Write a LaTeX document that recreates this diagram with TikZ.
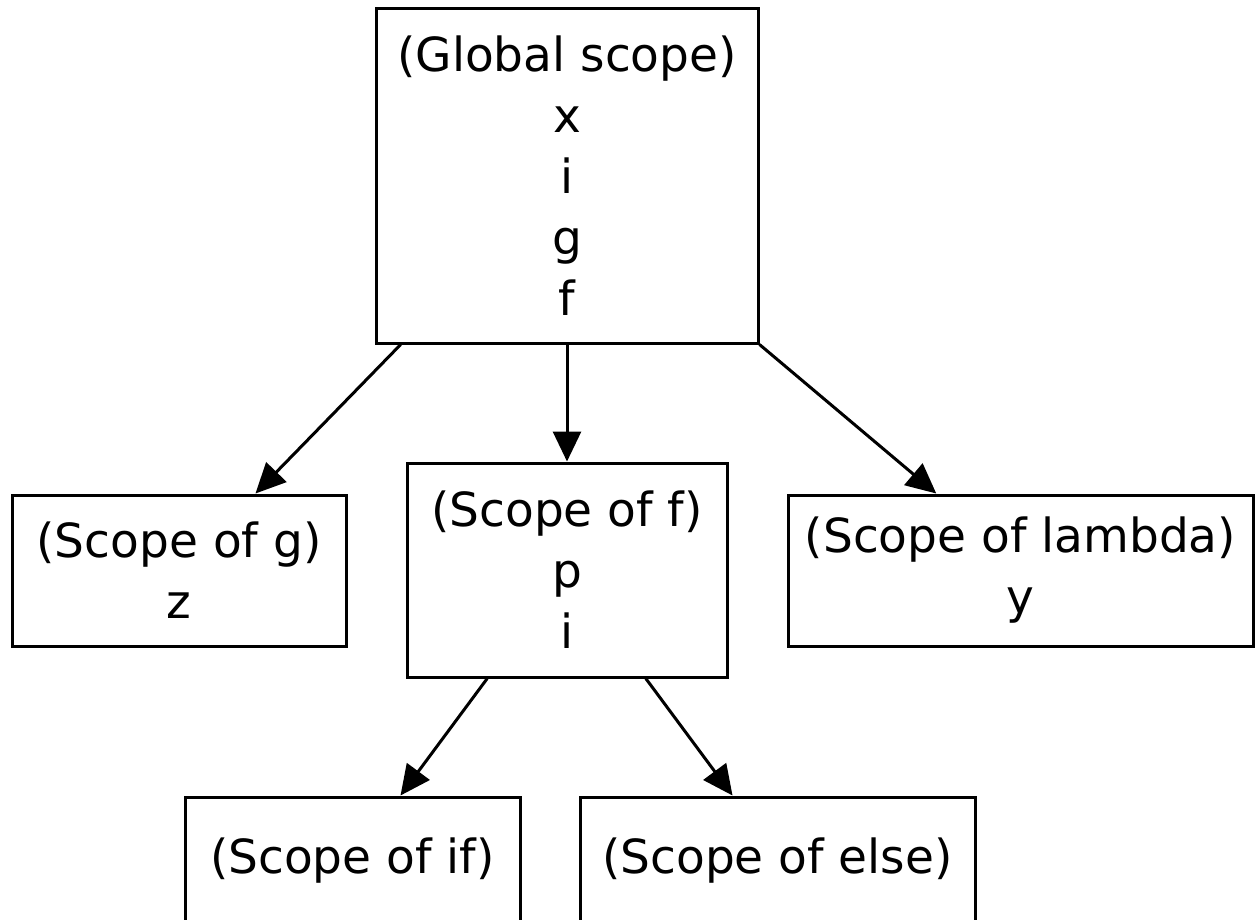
\documentclass[tikz,border=0pt]{standalone}
\usepackage{fontspec}
\setmainfont{DejaVu Sans}
\usepackage{tikz}
\usetikzlibrary{
	math, calc,
	arrows.meta
}

\begin{document}
\begin{tikzpicture}[
	% Propiedades generales del dibujo
	x = 0.5pt, y = -0.5pt,
	line join = miter,
	% Definición de nuevos estilos
	% 	a. caja de ámbito:
	%		#1 ancho, #2 alto
	scopebox/.style 2 args = {
		draw, line width = 1.5pt,
		inner sep = 0pt,
		minimum width = #1, minimum height = #2,
		align = center,
		font = \fontsize{23.5}{30.5}\selectfont
	},
	%	b. flecha
	link/.style = {
		line width = 1.5pt,
		arrows = -{Triangle[length = 15pt, width = 14pt]},
		shorten > = 0pt
	},
]

	% márgenes del dibujo
	\useasboundingbox (0,0) rectangle (1257,920);

	% def. de las coordenadas importantes
	\coordinate (c0) at (567,176);    % global
	\coordinate (c1) at (179,570.5);  % g
	\coordinate (c2) at (567,570);    % f
	\coordinate (c3) at (1020.5,570.5); % lambda
	\coordinate (c4) at (352.5,861);  % if
	\coordinate (c5) at (777.5,861);  % else

	% cajas
	\node[scopebox = {191pt}{167pt}] (global) at (c0)
		{(Global scope)\\x\\i\\g\\f};
	\node[scopebox = {167pt}{75.5pt}] (scopeg) at (c1)
		{(Scope of g)\\z};
	\node[scopebox = {160pt}{107pt}] (scopef) at (c2)
		{(Scope of f)\\p\\i};
	\node[scopebox = {232.5pt}{75.5pt}] (scopelambda) at (c3)
		{(Scope of lambda)\\y};
	\node[scopebox = {167.5pt}{64pt}] (scopeif) at (c4)
		{(Scope of if)};
	\node[scopebox = {197.5pt}{64pt}] (scopeelse) at (c5)
		{(Scope of else)};

	% flechas
	\draw[link]
		($(global.south west)!0.068!(global.south east)$)
		-- ($(scopeg.north west)!0.727!(scopeg.north east)$);
	\draw[link] (global.south) -- (scopef.north);
	\draw[link]
		(global.south east)
		-- ($(scopelambda.north west)!0.32!(scopelambda.north east)$);
	\draw[link]
		($(scopef.south west)!0.253!(scopef.south east)$)
		-- ($(scopeif.north west)!0.642!(scopeif.north east)$);
	\draw[link]
		($(scopef.south west)!0.744!(scopef.south east)$)
		-- ($(scopeelse.north west)!0.387!(scopeelse.north east)$);

\end{tikzpicture}
\end{document}
